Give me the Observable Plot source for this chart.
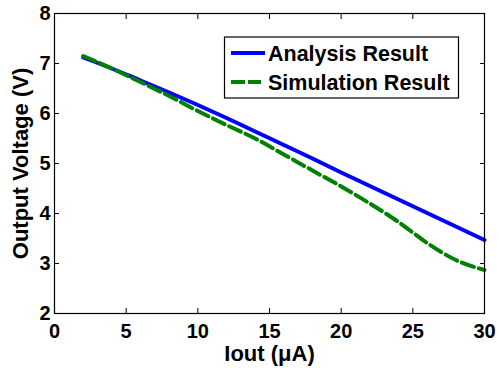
<!DOCTYPE html>
<html>
<head>
<meta charset="utf-8">
<script src="https://cdn.jsdelivr.net/npm/d3@7"></script>
<script src="https://cdn.jsdelivr.net/npm/@observablehq/plot@0.6"></script>
<style>
  body { margin: 0; background: #fff; }
  #chart { position: relative; width: 498px; height: 368px; }
  #legend { position: absolute; left: 0; top: 0; pointer-events: none; }
</style>
</head>
<body>
<div id="chart"></div>
<script>
// Output voltage versus load current
const iout = [2, 4, 6, 8, 10, 12, 14, 16, 18, 20, 22, 24, 26, 28, 30];
const analysis = [7.12, 6.90, 6.66, 6.42, 6.17, 5.91, 5.64, 5.37, 5.10, 4.82, 4.55, 4.28, 4.01, 3.74, 3.47];
const simulation = [7.15, 6.90, 6.63, 6.35, 6.05, 5.77, 5.50, 5.18, 4.86, 4.54, 4.20, 3.83, 3.41, 3.07, 2.87];
const seriesNames = ["Analysis Result", "Simulation Result"];
const seriesColors = ["#0000ff", "#008000"];
const xTicks = [0, 5, 10, 15, 20, 25, 30];
const yTicks = [2, 3, 4, 5, 6, 7, 8];
const xLabel = "Iout (\u03bcA)";
const yLabel = "Output Voltage (V)";

const font = "'Liberation Sans', Arial, Helvetica, sans-serif";
const dash = "13,5";

const rowsA = iout.map((x, i) => ({x, y: analysis[i]}));
const rowsS = iout.map((x, i) => ({x, y: simulation[i]}));

const chart = Plot.plot({
  width: 498,
  height: 368,
  marginLeft: 54,
  marginRight: 14,
  marginTop: 13,
  marginBottom: 55,
  style: {fontFamily: font, fontWeight: "bold", fontSize: "20px", color: "#000", background: "#fff"},
  x: {domain: [0, 30]},
  y: {domain: [2, 8]},
  marks: [
    Plot.line(rowsA, {x: "x", y: "y", stroke: seriesColors[0], strokeWidth: 4, curve: "monotone-x"}),
    Plot.line(rowsS, {x: "x", y: "y", stroke: seriesColors[1], strokeWidth: 4, strokeDasharray: dash, curve: "monotone-x"}),
    Plot.frame({stroke: "#000", strokeWidth: 1.2}),
    Plot.axisX(xTicks, {anchor: "bottom", tickSize: -5, tickPadding: 15, tickFormat: (d) => String(d), label: null, fontSize: 20}),
    Plot.axisX(xTicks, {anchor: "top", tickSize: -5, tickFormat: () => "", label: null}),
    Plot.axisY(yTicks, {anchor: "left", tickSize: -5, tickPadding: 9, tickFormat: (d) => String(d), label: null, fontSize: 20}),
    Plot.axisY(yTicks, {anchor: "right", tickSize: -5, tickFormat: () => "", label: null}),
    Plot.text([xLabel], {frameAnchor: "bottom", dy: 47, lineAnchor: "bottom", textAnchor: "middle", fontSize: 22, fontWeight: "bold"}),
    Plot.text([yLabel], {frameAnchor: "left", dx: -42, rotate: -90, lineAnchor: "top", textAnchor: "middle", fontSize: 22, fontWeight: "bold"})
  ]
});

const host = document.getElementById("chart");
host.appendChild(chart);

// Legend box drawn on top of the plot area
const svgNS = "http://www.w3.org/2000/svg";
const legend = document.createElementNS(svgNS, "svg");
legend.setAttribute("id", "legend");
legend.setAttribute("width", 498);
legend.setAttribute("height", 368);
const box = {x: 224.5, y: 37, w: 234, h: 61};
const rect = document.createElementNS(svgNS, "rect");
rect.setAttribute("x", box.x);
rect.setAttribute("y", box.y);
rect.setAttribute("width", box.w);
rect.setAttribute("height", box.h);
rect.setAttribute("fill", "#fff");
rect.setAttribute("stroke", "#000");
rect.setAttribute("stroke-width", 1.2);
legend.appendChild(rect);
seriesNames.forEach((name, i) => {
  const cy = 53 + i * 29;
  const ln = document.createElementNS(svgNS, "line");
  ln.setAttribute("x1", 231);
  ln.setAttribute("x2", i === 0 ? 265 : 261);
  ln.setAttribute("y1", cy);
  ln.setAttribute("y2", cy);
  ln.setAttribute("stroke", seriesColors[i]);
  ln.setAttribute("stroke-width", 4);
  if (i === 1) ln.setAttribute("stroke-dasharray", "14,3");
  legend.appendChild(ln);
  const tx = document.createElementNS(svgNS, "text");
  tx.setAttribute("x", 268);
  tx.setAttribute("y", cy + 8);
  tx.setAttribute("font-family", font);
  tx.setAttribute("font-weight", "bold");
  tx.setAttribute("font-size", 21.5);
  tx.setAttribute("fill", "#000");
  tx.textContent = name;
  legend.appendChild(tx);
});
host.appendChild(legend);
</script>
</body>
</html>
